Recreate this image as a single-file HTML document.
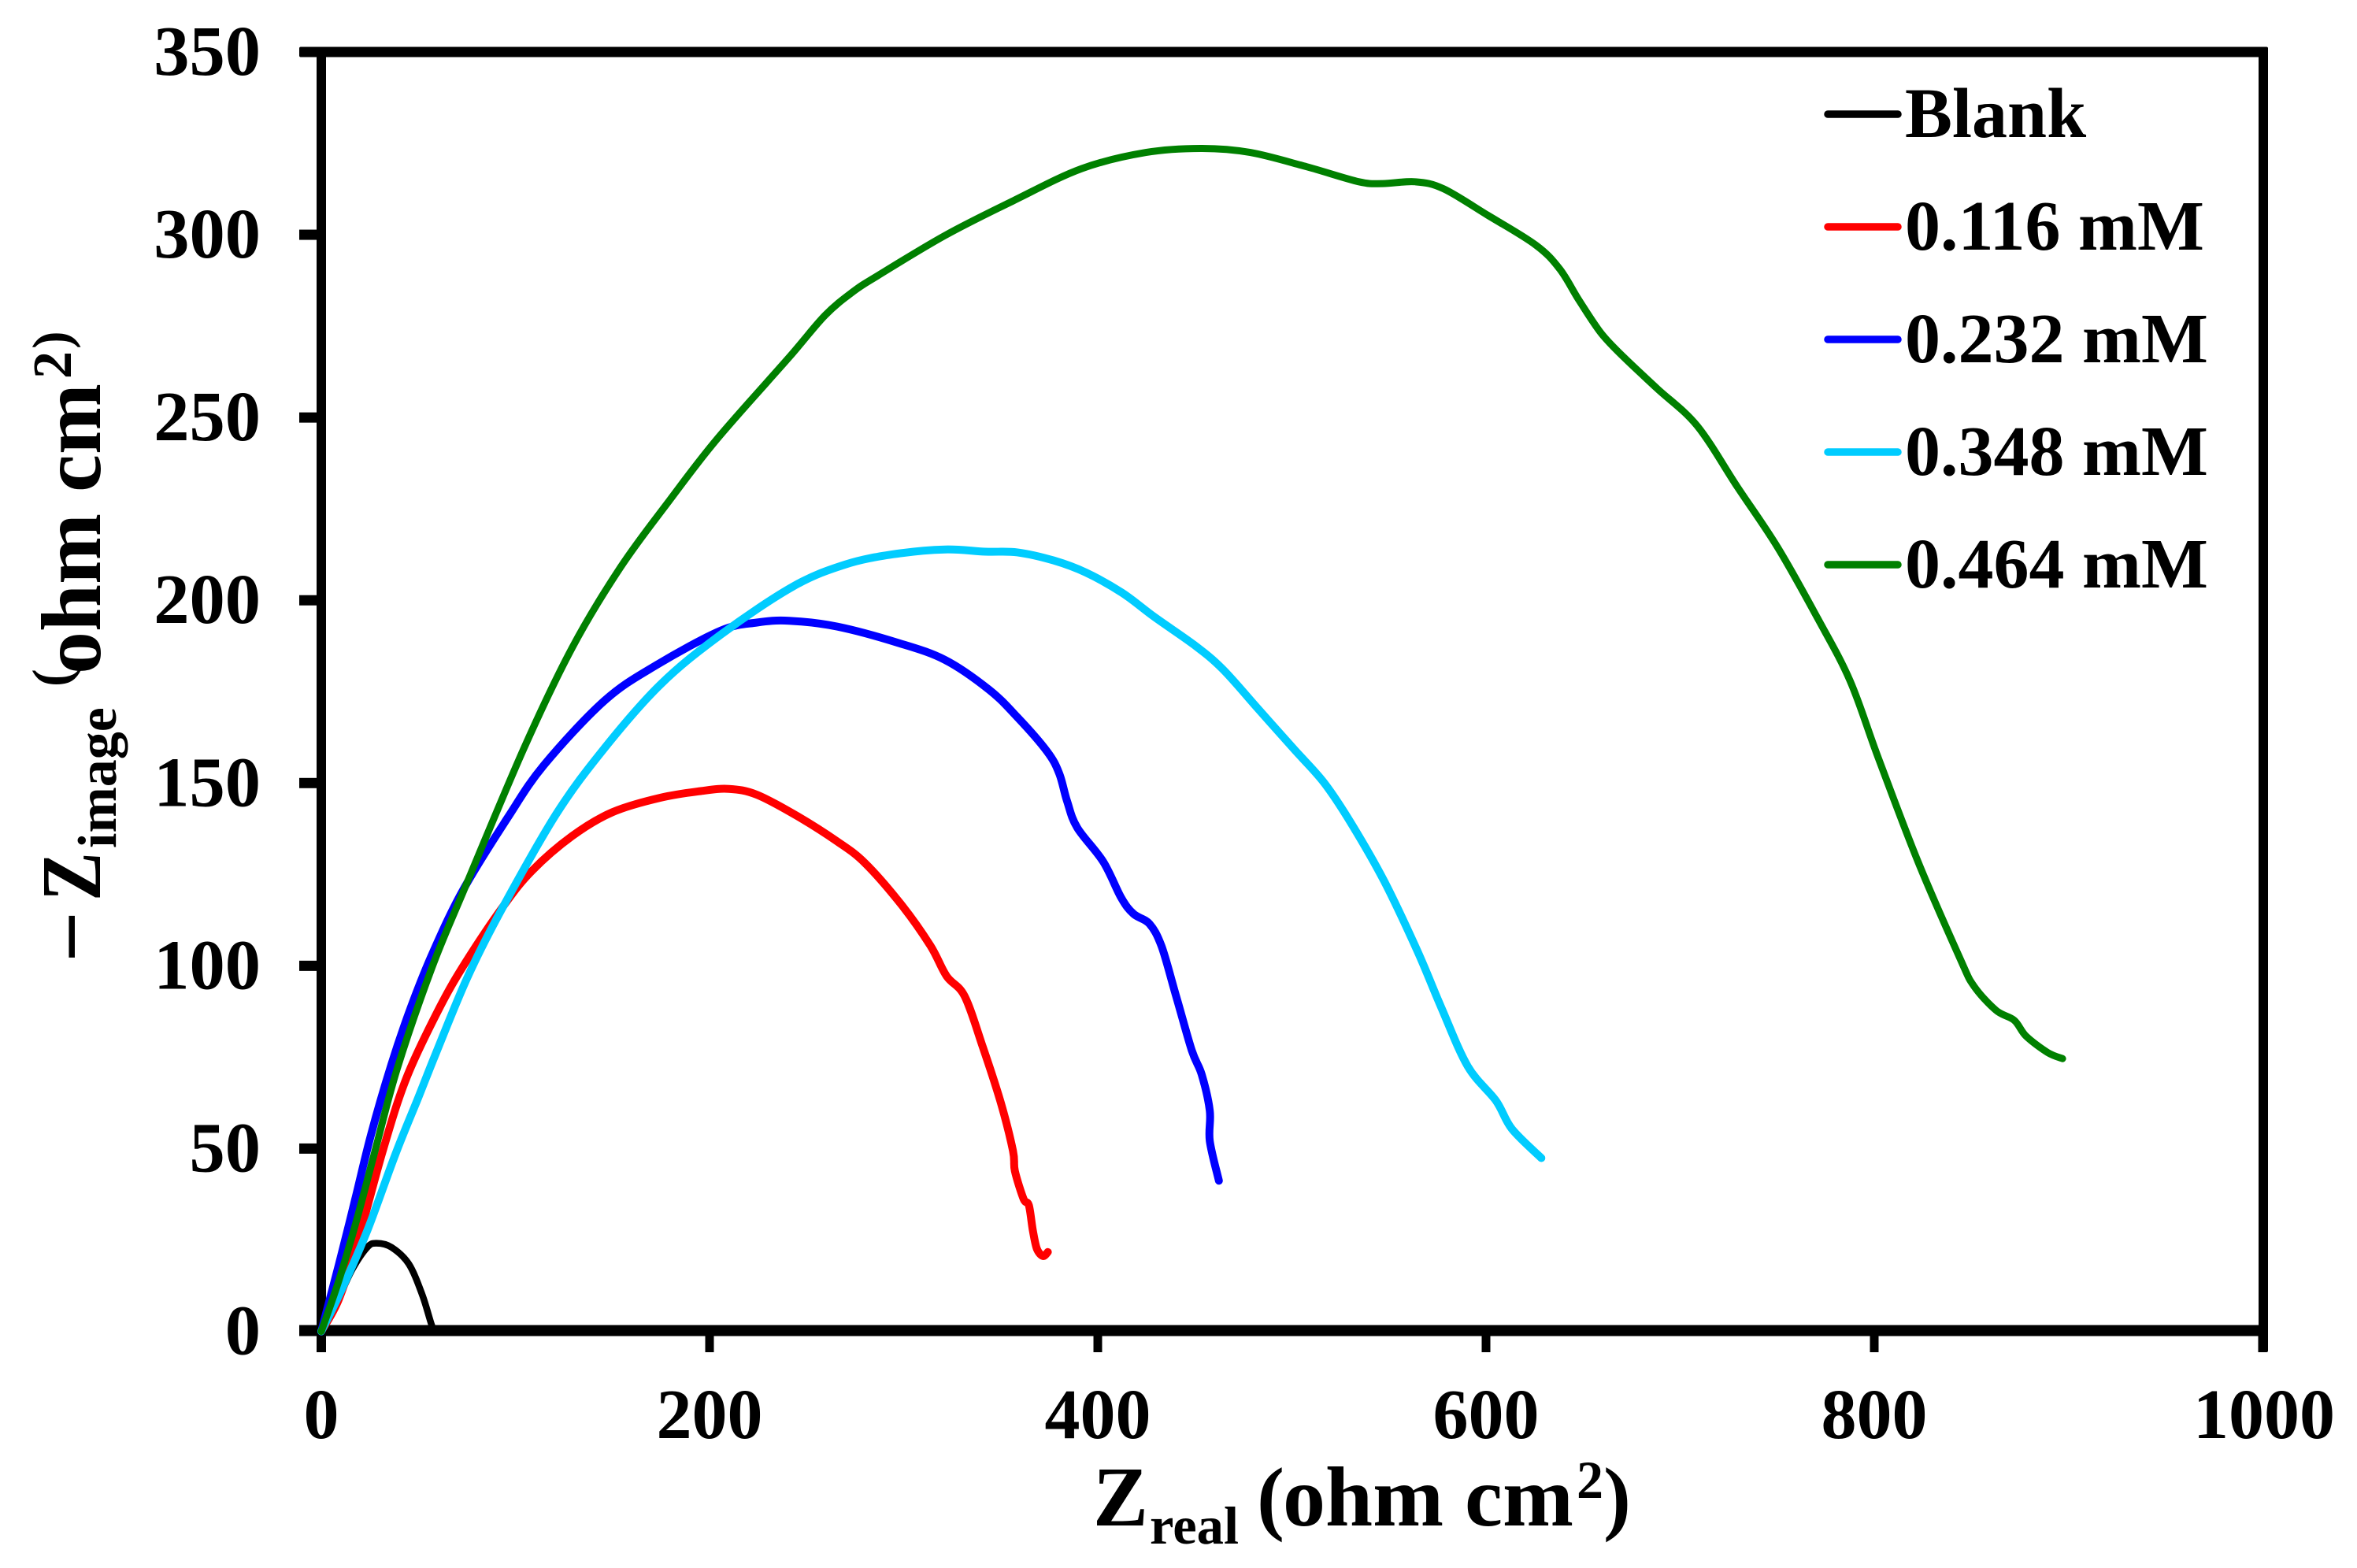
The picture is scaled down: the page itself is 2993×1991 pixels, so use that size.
<!DOCTYPE html>
<html lang="en">
<head>
<meta charset="utf-8">
<title>Nyquist plot</title>
<style>
html,body{margin:0;padding:0;background:#fff;}
svg{display:block;}
text{font-family:"Liberation Serif","Times New Roman",serif;font-weight:bold;fill:#000;}
</style>
</head>
<body>
<svg id="chart" xmlns="http://www.w3.org/2000/svg" width="2993" height="1991" viewBox="0 0 2993 1991">
  <rect x="0" y="0" width="2993" height="1991" fill="#ffffff"/>
  <g id="axes"></g>
  <g id="series"></g>
  <g id="legend"></g>

  <g>
    <text x="1388" y="1937" font-size="108" textLength="70" lengthAdjust="spacingAndGlyphs">Z</text>
    <text x="1460" y="1960" font-size="68" textLength="113" lengthAdjust="spacingAndGlyphs">real</text>
    <text x="1596" y="1936" font-size="105">(</text>
    <text x="1629" y="1937" font-size="108">ohm cm</text>
    <text x="2002" y="1902" font-size="68">2</text>
    <text x="2036" y="1936" font-size="105">)</text>
  </g>

  <g transform="translate(127,0) rotate(-90)">
    <text x="-1222" y="0" font-size="108" textLength="65" lengthAdjust="spacingAndGlyphs">−</text>
    <text x="-1144" y="0" font-size="108" textLength="62" lengthAdjust="spacingAndGlyphs">Z</text>
    <text x="-1077" y="20" font-size="70">image</text>
    <text x="-872" y="-39" font-size="68">(</text>
    <text x="-856" y="0" font-size="108">ohm cm</text>
    <text x="-481" y="-37" font-size="70">2</text>
    <text x="-443" y="-39" font-size="68">)</text>
  </g>
</svg>
<script>
// Axis ticks
const xTicks = [0, 200, 400, 600, 800, 1000];
const yTicks = [0, 50, 100, 150, 200, 250, 300, 350];

// Series values
const blankX = [0, 8, 16, 23.7, 28.5, 36.1, 45, 52, 57, 59];
const blankY = [0, 8, 17, 23, 24.1, 23, 18.5, 10, 1.5, 0];

const redX = [0, 9.2, 19.5, 32, 44, 60.9, 74.4, 94, 108.5, 129.2, 149.9, 174.8, 195.5, 210, 224.4, 245.1, 265.8, 280.3, 299.3, 313.8, 322.1, 331.4, 340.7, 350, 356.3, 357.3, 361.8, 364.5, 366.6, 368.7, 371.8, 374.3];
const redY = [0, 9, 26, 50, 69.5, 88.5, 101, 116.5, 126, 135.5, 142, 146, 147.8, 148.4, 146.8, 141, 134, 128, 116.4, 105.5, 97.2, 91.7, 77.9, 62.6, 49.4, 43.9, 36.2, 34.5, 27.4, 22.5, 20.6, 21.7];

const blueX = [0, 9.2, 17.5, 25.7, 36.1, 46.4, 57.8, 73.3, 96.1, 114.7, 145.8, 172.7, 205.8, 224.4, 241, 265.8, 296.9, 321.3, 344.1, 358.6, 373.8, 380.1, 384.2, 389.4, 402.8, 412.1, 418.4, 426.6, 432.8, 440.1, 448.4, 453.5, 457.7, 457.7, 462.4];
const blueY = [0, 18.6, 36.2, 54, 73, 89, 104, 121, 140.6, 154.9, 172.5, 182.3, 191.7, 193.9, 194.4, 192.8, 188.4, 183.7, 175.5, 168, 158.7, 152.7, 145, 137.8, 128.5, 118.6, 114.2, 111.5, 105.4, 92.2, 76.9, 70.3, 60.4, 52.1, 41.2];

const cyanX = [0, 11, 24, 38.2, 50, 59, 75.4, 93, 121, 145.8, 174.8, 205.8, 243.1, 270, 294.8, 321.3, 342, 358.6, 377.2, 393.8, 412.4, 429, 449.6, 464.1, 482.6, 501.2, 516.7, 531.2, 547.7, 564.7, 577.1, 590.6, 605.1, 613.3, 628.5];
const cyanY = [0, 12, 28, 48.5, 64, 76, 97, 115.5, 141.5, 159.5, 177, 190.6, 203.8, 209.8, 212.6, 213.9, 213.3, 213.1, 210.9, 207.6, 202.1, 195.5, 187.8, 181.3, 170.3, 159.2, 150, 138.4, 123, 104, 88.4, 72.5, 63.1, 55.4, 47.4];

const greenX = [0, 9.2, 18.5, 28, 39.2, 57, 73.3, 104.4, 129.2, 154.1, 178.9, 203.7, 241, 259.6, 274.1, 286.6, 321.3, 356.5, 391.7, 424.8, 453.8, 478.6, 507.6, 534.5, 546.9, 563.5, 578, 600.7, 625.6, 638, 648, 659.4, 671, 688, 708.8, 729.5, 750.2, 770.9, 787.5, 802, 822.6, 844.1, 851.4, 862.8, 872.1, 878.3, 889.3, 897];
const greenY = [0, 14.2, 31, 50, 72, 99.5, 120.5, 159.5, 187, 209, 227, 244, 266.5, 278, 284.5, 288.8, 299.8, 309.3, 318.1, 322.5, 323.6, 322.5, 318.6, 314.5, 314, 314.5, 312.6, 305.4, 297.2, 290.6, 282, 273, 266.5, 258, 247.7, 231, 214.5, 195, 178, 157, 128.4, 102.1, 94.4, 87.8, 85.1, 80.7, 76.3, 74.6];

const legendLabels = ['Blank', '0.116 mM', '0.232 mM', '0.348 mM', '0.464 mM'];
const seriesNames = ['blank', '0-116-mm', '0-232-mm', '0-348-mm', '0-464-mm'];
const seriesColors = ['#000000', '#ff0000', '#0000ff', '#00ccff', '#008000'];
const seriesXs = [blankX, redX, blueX, cyanX, greenX];
const seriesYs = [blankY, redY, blueY, cyanY, greenY];

const NS = 'http://www.w3.org/2000/svg';
const xScale = v => 408 + v * 2.465;
const yScale = v => 1690.5 - v * (1624.5 / 350);

function mk(tag, parent, attrs, text) {
  const el = document.createElementNS(NS, tag);
  for (const k in attrs) el.setAttribute(k, attrs[k]);
  if (text !== undefined) el.textContent = text;
  parent.appendChild(el);
  return el;
}

const axes = document.getElementById('axes');

yTicks.forEach(t => {
  const y = yScale(t);
  if (t !== 350 && t !== 0) {
    const tick = mk('rect', axes, {x: 380, y: y - 6.5, width: 30, height: 13, fill: '#000'});
    
    
  }
  const label = mk('text', axes, {x: 331, y: y + 29, 'font-size': 90.5, 'text-anchor': 'end'}, String(t));
  
  
});

xTicks.forEach(t => {
  const x = xScale(t);
  const tick = mk('rect', axes, {x: x - 5.5, y: 1690, width: 11, height: 27, fill: '#000'});
  
  
  const label = mk('text', axes, {x: x + (t === 1000 ? 2 : 0), y: 1826, 'font-size': 90, 'text-anchor': 'middle'}, String(t));
  
  
});

const leftLine = mk('rect', axes, {x: 402, y: 60, width: 12, height: 1657, fill: '#000'});


const rightLine = mk('rect', axes, {x: 2868, y: 60, width: 12, height: 1657, rx: 2, fill: '#000'});


const topLine = mk('rect', axes, {x: 380, y: 59.5, width: 2500, height: 13, rx: 2, fill: '#000'});


const bottomLine = mk('rect', axes, {x: 380, y: 1682.5, width: 2500, height: 14, fill: '#000'});



function smoothPath(xs, ys) {
  const p = xs.map((v, i) => [xScale(v), yScale(ys[i])]);
  let d = 'M' + p[0][0].toFixed(1) + ' ' + p[0][1].toFixed(1);
  for (let i = 0; i < p.length - 1; i++) {
    const a = p[Math.max(0, i - 1)], b = p[i], c = p[i + 1], e = p[Math.min(p.length - 1, i + 2)];
    const c1x = b[0] + (c[0] - a[0]) / 6, c1y = b[1] + (c[1] - a[1]) / 6;
    const c2x = c[0] - (e[0] - b[0]) / 6, c2y = c[1] - (e[1] - b[1]) / 6;
    d += 'C' + c1x.toFixed(1) + ' ' + c1y.toFixed(1) + ' ' + c2x.toFixed(1) + ' ' + c2y.toFixed(1) + ' ' + c[0].toFixed(1) + ' ' + c[1].toFixed(1);
  }
  return d;
}

const seriesGroup = document.getElementById('series');
seriesXs.forEach((xs, i) => {
  const line = mk('path', seriesGroup, {
    d: smoothPath(xs, seriesYs[i]),
    fill: 'none',
    stroke: seriesColors[i],
    'stroke-width': i === 0 ? 8.5 : (i === 4 ? 9 : 10),
    'stroke-linecap': 'round',
    'stroke-linejoin': 'round'
  });
  
  
});

const legend = document.getElementById('legend');
legendLabels.forEach((name, i) => {
  const y = 145 + 143 * i;
  const swatch = mk('line', legend, {x1: 2321, x2: 2410, y1: y, y2: y, stroke: seriesColors[i], 'stroke-width': 9.5, 'stroke-linecap': 'round'});
  
  
  const label = mk('text', legend, {x: 2419, y: y + 29, 'font-size': 90}, name);
  
  
});
</script>
</body>
</html>
